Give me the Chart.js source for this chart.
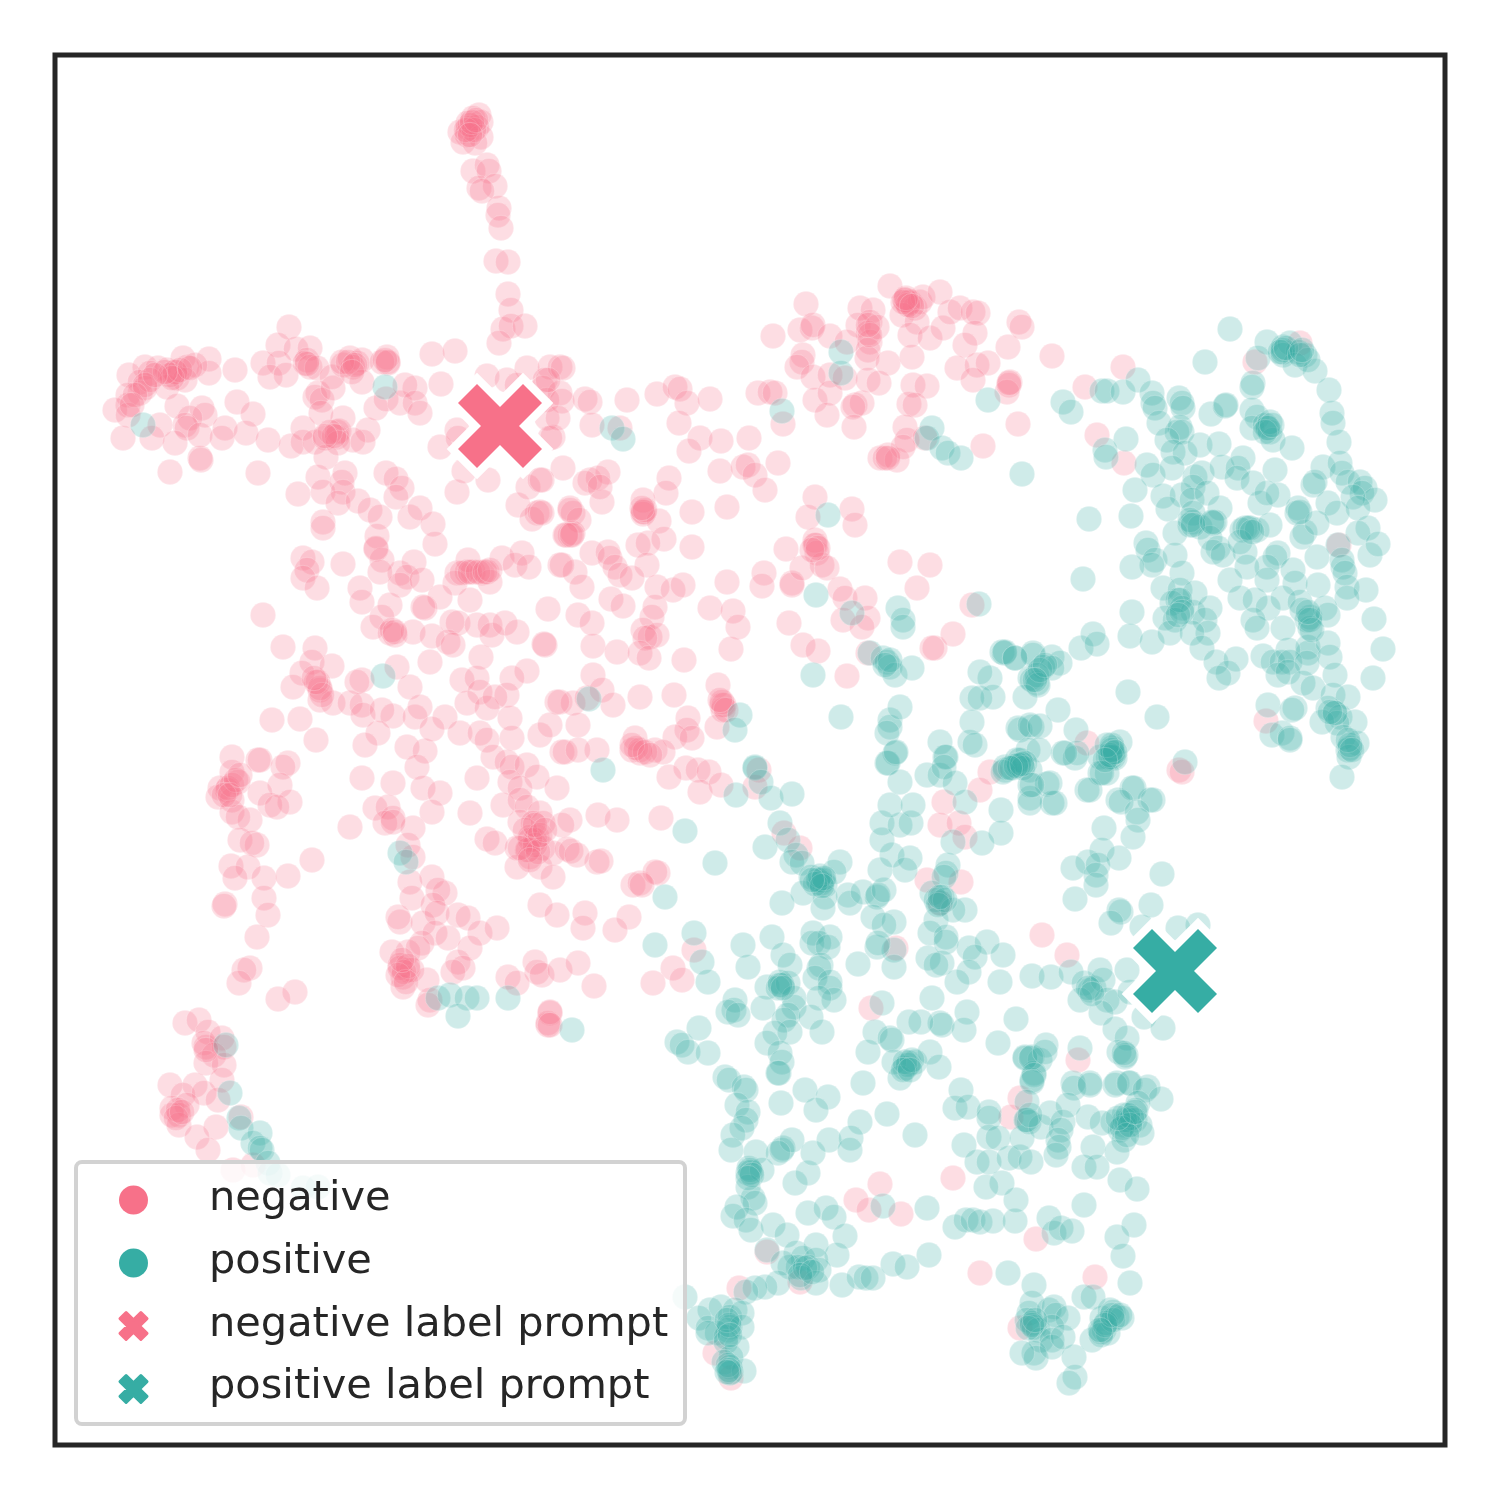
<!DOCTYPE html>
<html>
<head>
<meta charset="utf-8">
<title>Prompt embedding scatter</title>
<script src="https://cdn.jsdelivr.net/npm/chart.js@4/dist/chart.umd.min.js"></script>
<style>
  html, body { margin: 0; padding: 0; background: #fff; }
  canvas { display: block; }
</style>
</head>
<body>
<canvas id="chart" width="1500" height="1500"></canvas>
<script>
// values; the plot has no ticks so the units follow the frame
const negativePoints = [
[479,115],[473,118],[468,123],[481,122],[460,132],[468,128],[477,127],[467,135],[481,137],[463,142],[475,143],
[473,171],[487,165],[489,171],[479,188],[495,186],[482,191],[499,208],[498,215],[501,228],[496,261],[508,262],[508,294],[511,310],[503,329],[511,326],[525,326],[499,343],
[432,354],[455,351],[441,384],[487,376],
[289,327],[278,345],[296,349],[310,348],[263,363],[279,363],[270,377],[286,375],[307,360],[305,363],[310,367],[317,368],[235,370],
[183,358],[209,359],[209,373],[145,367],[158,368],[167,370],[175,372],[187,367],[195,365],[177,378],[129,375],[150,373],[140,382],[185,380],[167,387],[140,393],[128,395],[145,388],[128,405],[115,410],[128,415],[177,406],[202,408],[205,415],[190,418],[185,425],[187,428],[160,425],[152,438],[123,438],[175,443],[200,435],[225,428],[222,438],[200,458],[201,460],[170,472],
[237,402],[253,414],[246,433],[258,473],[268,440],[291,446],[303,428],[303,442],[315,442],[325,438],[337,432],[339,431],[337,437],[326,457],[343,418],[368,430],[363,442],[353,440],[338,443],[318,393],[315,397],[322,400],[333,388],[332,377],[343,365],[350,358],[357,363],[362,360],[353,367],[362,382],[387,357],[388,363],[382,362],[376,408],[386,399],[400,403],[415,388],[405,385],[415,403],[420,413],[321,413],
[318,477],[345,473],[342,482],[298,494],[323,492],[343,492],[338,503],[358,501],[370,510],[380,517],[386,473],[396,479],[402,488],[396,497],[410,517],[420,508],[433,524],[435,544],[323,522],[323,528],[377,536],[376,549],[457,492],[464,471],[488,480],[440,447],[457,430],[458,438],[518,505],[528,487],[540,480],[537,513],[532,519],[540,512],
[527,368],[550,367],[507,380],[517,385],[545,380],[543,388],[560,367],[547,418],[553,437],[560,393],[547,400],
[563,368],[548,380],[562,401],[585,399],[590,402],[627,400],[558,418],[592,425],[620,428],[550,438],[657,394],[675,387],[680,389],[687,403],[710,399],[679,423],[700,438],[689,451],[721,441],[749,438],[720,471],[743,467],[748,465],[755,475],[778,463],[765,490],[758,393],[770,392],[775,393],[783,424],
[563,468],[542,480],[608,472],[590,480],[598,478],[585,483],[602,502],[600,487],[669,478],[666,493],[643,500],[644,512],[643,514],[659,521],[692,512],[727,507],[542,513],[570,508],[573,513],[579,520],[565,535],[570,535],[573,533],[664,539],[638,545],[648,543],[692,547],[592,553],[608,552],[610,558],[615,567],[647,565],[560,565],[575,572],[620,575],[632,578],[582,587],[657,587],[673,590],[683,585],[611,599],[623,606],[655,607],[548,609],[578,615],[592,623],[652,617],[710,608],[733,611],[738,627],[643,630],[650,637],[657,635],[645,638],[593,646],[617,652],[640,653],[649,658],[545,645],[684,660],[731,649],
[727,582],[764,573],[762,586],[792,583],[792,585],[815,497],[808,517],[786,549],[815,540],[816,545],[817,553],[802,568],[822,565],[827,568],[852,509],[855,525],[900,562],[930,565],[917,588],[840,589],[845,598],[865,598],[868,618],[843,620],[862,627],[789,623],[803,645],[818,651],[972,605],[935,648],[953,634],[932,648],[847,676],[868,653],
[806,304],[773,336],[800,330],[812,328],[813,325],[830,336],[803,355],[802,362],[797,367],[813,377],[830,375],[815,400],[830,393],[827,415],[855,405],[862,403],[853,407],[854,427],[845,378],[860,308],[873,310],[858,325],[870,322],[868,333],[870,342],[877,327],[847,342],[868,350],[867,358],[888,363],[868,380],[879,383],[890,286],[907,303],[905,300],[910,302],[915,308],[920,302],[923,297],[940,292],[902,315],[917,322],[910,335],[930,338],[943,328],[950,312],[960,308],[973,312],[978,313],[912,357],[975,333],[965,345],[957,368],[977,365],[988,363],[973,380],[1008,347],[1019,322],[1022,327],[1010,382],[1009,385],[1007,392],[1018,424],[983,446],[913,385],[927,386],[909,404],[915,405],[905,427],[907,440],[925,438],[880,458],[888,455],[897,460],[903,447],
[1052,356],[1123,367],[1085,387],[1097,435],[1124,463],[1300,343],[1255,362],[1339,545],[1266,721],[1179,770],[1087,743],
[303,558],[312,562],[307,570],[303,578],[317,588],[343,564],[263,615],[283,647],[315,648],[312,662],[332,666],[302,673],[293,687],[318,682],[320,690],[320,700],[333,703],[350,703],[362,705],[362,680],[357,682],[363,715],[397,667],[410,687],[393,716],[382,710],[415,717],[420,707],[378,733],[365,745],[300,719],[272,720],[316,740],[407,747],[425,751],[417,767],[362,778],[393,783],[423,788],[440,793],[432,812],[470,813],[375,808],[388,807],[393,818],[385,823],[413,828],[350,827],[393,822],[408,845],[413,857],[432,877],[410,882],[412,898],[445,893],[438,890],[433,905],[400,922],[398,917],[423,923],[437,913],[458,915],[435,933],[468,918],[480,933],[497,928],[422,943],[408,952],[392,952],[418,948],[448,938],[470,948],[458,962],[463,968],[453,972],[400,965],[408,970],[403,977],[403,987],[427,980],[430,1000],[412,970],
[540,905],[557,915],[508,977],[535,962],[537,972],[542,975],[517,983],[550,1013],[548,1025],[548,1023],[560,970],
[232,757],[258,760],[260,760],[288,763],[283,767],[232,772],[238,782],[220,788],[227,790],[280,785],[260,793],[218,797],[232,800],[290,802],[270,805],[277,807],[232,812],[250,820],[238,817],[240,840],[257,845],[252,843],[231,866],[248,867],[235,878],[264,878],[288,876],[312,860],[264,898],[225,904],[224,906],[268,915],[257,937],[250,968],[244,970],[239,983],[295,992],[278,999],
[457,573],[467,572],[473,572],[482,573],[487,572],[490,582],[455,583],[502,558],[522,553],[515,565],[529,567],[468,560],[562,565],
[400,573],[414,562],[407,577],[400,585],[382,560],[380,572],[376,548],[422,580],[360,588],[362,602],[390,605],[440,597],[425,608],[423,607],[382,617],[373,627],[390,633],[395,635],[413,632],[432,636],[452,622],[458,623],[470,600],[477,625],[490,625],[492,635],[505,623],[517,632],[448,642],[453,645],[544,644],[481,657],[430,662],[462,680],[477,678],[527,671],[512,678],[480,692],[507,695],[467,703],[487,708],[495,697],[510,718],[445,717],[432,729],[460,733],[480,733],[487,740],[512,738],[540,735],[560,702],[562,752],[493,757],[507,762],[512,767],[527,765],[477,778],[537,777],[510,782],[520,788],[557,788],[503,805],[520,800],[527,807],[540,813],[520,822],[533,823],[487,839],[495,843],[517,848],[530,837],[537,837],[543,823],[527,850],[543,848],[517,867],[540,867],[553,853],[553,877],[530,857],[535,840],
[570,820],[562,825],[598,815],[617,820],[597,862],[601,861],[567,849],[571,851],[577,855],[633,885],[640,883],[658,873],[629,917],[615,930],[585,913],[583,928],[578,963],[594,986],
[573,703],[587,698],[593,675],[602,690],[613,705],[557,702],[550,725],[578,725],[640,697],[674,695],[718,685],[722,705],[723,710],[717,727],[688,718],[687,730],[675,737],[692,738],[635,738],[632,750],[640,753],[655,750],[663,752],[597,750],[565,752],[578,750],
[686,768],[698,770],[709,772],[669,777],[700,792],[721,785],[759,770],[755,787],[990,772],[980,790],[944,802],[940,825],[959,823],[965,837],[927,880],[961,882],[940,903],[655,872],[642,885],[694,950],[896,948],[673,968],[682,980],[653,983],[871,1008],[1042,935],[1067,955],[1078,1060],[1182,772],[784,833],[800,848],[661,818],
[953,1178],[880,1184],[856,1200],[869,1210],[901,1214],[1036,1239],[980,1273],[1095,1277],[739,1288],[767,1252],[1020,1328],[1020,1098],[1011,1117],[715,1353],[731,1378],[800,1282],
[185,1023],[199,1020],[208,1032],[206,1047],[204,1043],[222,1038],[224,1047],[214,1055],[206,1063],[224,1065],[222,1080],[195,1085],[170,1085],[183,1095],[204,1093],[218,1100],[172,1108],[187,1105],[179,1115],[172,1115],[179,1125],[216,1127],[197,1137],[208,1150],[241,1117],[233,1170],[253,1165],[550,1012],[550,1025],[428,1005],
[470,125],[474,130],[466,130],[472,122],[476,120],[470,135],
[175,372],[170,375],[180,370],[172,378],[150,380],[145,385],[135,395],[132,405],[190,368],[165,372],[155,375],
[388,362],[385,360],[342,362],[348,362],[355,365],[352,372],[307,364],[330,432],[334,436],[325,436],
[905,300],[908,305],[903,302],[906,298],[912,306],[870,335],[868,325],
[815,545],[818,548],[812,550],[643,512],[645,510],[642,508],
[724,705],[722,702],[726,710],[720,700],
[640,750],[636,748],[645,752],[632,745],[650,755],
[320,688],[316,682],[322,695],[314,678],
[400,968],[404,972],[408,966],[398,975],[406,982],[402,960],
[228,788],[232,785],[236,780],[224,795],[230,795],[240,775],
[530,840],[535,845],[528,850],[538,852],[525,830],[540,835],[520,848],[535,825],[545,830],[530,860],
[570,510],[566,535],[572,535],[462,573],[470,572],[478,572],[485,572],[490,570],
[206,1050],[178,1110],[176,1118],[182,1112],[885,458],[888,458],[1009,383],[392,630],[395,632]
];
const positivePoints = [
[226,1045],[230,1093],[239,1118],[241,1128],[260,1133],[253,1143],[260,1148],[262,1150],[268,1163],[270,1173],[278,1175],[303,1188],[318,1187],[572,1030],
[383,676],[400,853],[406,862],[438,998],[450,995],[467,998],[477,998],[508,998],[458,1016],[143,425],[385,387],
[612,428],[623,439],[782,411],[841,352],[841,373],[988,400],[932,428],[927,438],[942,448],[948,453],[961,458],[1022,474],[828,515],[816,595],[852,613],[898,608],[903,620],[903,627],[979,604],[589,699],[603,770],[740,715],[735,730],[813,675],[841,717],[870,653],[883,658],[887,662],[890,667],[895,675],[912,668],[1002,652],[1004,653],[1015,658],[1033,653],[1030,678],[1037,683],[990,678],[980,672],[993,697],[972,698],[980,698],[972,722],[1020,730],[970,742],[940,742],[945,757],[890,720],[890,727],[900,707],[887,733],[895,753],[887,763],[1005,767],[1017,760],[1032,727],[1030,770],[755,767],
[1230,329],[1205,362],[1267,342],[1283,347],[1283,352],[1290,343],[1305,355],[1298,352],[1283,355],[1295,365],[1315,371],[1308,360],[1258,358],[1253,383],[1252,387],[1329,390],[1332,413],[1333,423],[1339,442],[1252,410],[1257,417],[1252,428],[1265,425],[1267,428],[1270,432],[1273,440],[1292,448],[1270,422],
[1063,402],[1071,412],[1102,391],[1107,391],[1123,392],[1138,380],[1152,393],[1153,403],[1155,408],[1159,423],[1179,398],[1182,403],[1183,408],[1180,427],[1177,432],[1182,432],[1167,440],[1173,452],[1185,453],[1200,445],[1211,414],[1225,406],[1226,405],[1219,444],[1126,439],[1105,450],[1106,457],[1147,465],[1153,475],[1172,468],[1135,490],[1131,516],[1089,519],
[1195,477],[1202,473],[1222,467],[1243,458],[1238,468],[1237,478],[1253,483],[1275,470],[1323,467],[1340,463],[1342,473],[1348,482],[1360,482],[1365,488],[1362,493],[1375,500],[1353,497],[1313,485],[1315,482],[1163,496],[1182,495],[1193,487],[1192,500],[1207,493],[1168,509],[1220,508],[1193,513],[1193,522],[1190,525],[1200,527],[1213,523],[1215,522],[1175,533],[1260,503],[1278,495],[1267,493],[1298,508],[1297,513],[1328,503],[1337,513],[1358,508],[1368,528],[1358,533],[1245,528],[1250,528],[1242,530],[1257,530],[1270,525],[1305,532],[1302,537],[1317,523],[1210,538],[1218,548],[1213,552],[1223,555],[1245,552],[1240,542],[1278,553],[1275,557],[1317,557],[1338,545],[1342,560],[1343,567],[1370,555],[1378,544],[1345,573],[1146,543],[1148,550],[1155,560],[1175,555],[1152,565],[1132,567],[1083,579],[1182,573],[1293,570],[1267,567],[1247,567],[1230,580],[1267,580],[1295,583],[1318,585],[1347,587],[1366,590],[1347,598],[1163,588],[1180,590],[1195,593],[1178,600],[1172,603],[1182,608],[1193,612],[1210,608],[1165,618],[1175,620],[1205,620],[1132,612],[1130,636],[1152,642],[1170,633],[1208,633],[1192,633],[1202,648],[1240,598],[1255,600],[1268,608],[1253,620],[1257,628],[1283,598],[1300,602],[1310,617],[1307,620],[1310,628],[1325,608],[1328,615],[1302,610],[1283,628],[1374,619],[1383,649],[1373,678],[1308,647],[1308,653],[1328,643],[1330,657],[1288,650],[1263,656],[1273,662],[1282,662],[1290,662],[1307,663],[1278,675],[1288,672],[1335,675],[1303,683],[1313,688],[1216,662],[1236,659],[1228,673],[1219,678],[1268,705],[1295,708],[1292,710],[1333,695],[1348,697],[1328,708],[1335,713],[1340,717],[1322,722],[1355,722],[1337,723],[1343,737],[1357,743],[1350,748],[1348,750],[1349,757],[1272,735],[1282,733],[1290,738],[1290,740],[1342,777],
[1005,652],[1033,655],[1015,658],[1052,657],[1060,663],[1043,667],[1052,668],[1037,675],[1032,680],[1038,685],[1025,697],[1081,648],[1093,634],[1097,644],[1128,692],[1157,717],[1058,710],[1076,730],[1018,728],[1030,725],[1040,726],[1028,750],[1039,750],[1063,753],[1075,758],[1100,757],[1112,748],[1108,757],[1113,757],[1115,758],[1120,742],[1112,745],[1100,773],[1107,773],[1005,770],[1018,765],[1020,760],[1012,768],[1025,763],[1030,785],[1047,784],[1087,790],[1132,788],[1118,800],[1150,800],[1185,762],[1030,798],[1052,803],
[755,768],[761,782],[771,798],[792,794],[736,795],[685,831],[715,863],[665,897],[765,847],[780,823],[788,840],[796,855],[792,862],[802,863],[840,862],[811,877],[819,880],[823,880],[821,883],[825,885],[834,872],[803,893],[825,897],[823,908],[782,903],[848,895],[850,903],[863,892],[877,897],[878,895],[873,917],[884,890],[894,922],[884,925],[880,870],[892,855],[910,858],[905,870],[882,840],[882,823],[900,825],[911,823],[890,805],[913,805],[888,763],[896,752],[900,782],[927,775],[940,775],[946,757],[944,767],[955,783],[965,802],[975,745],[1001,810],[1001,833],[982,843],[953,842],[1003,772],[1019,765],[1023,768],[1030,803],[1055,803],[1050,783],[1032,785],[1090,790],[1077,753],[1065,753],[1111,757],[1113,753],[1102,773],[1134,788],[1121,802],[1153,800],[1137,812],[1138,820],[1133,837],[1104,828],[1102,850],[1119,858],[1088,862],[1073,868],[1098,865],[1096,875],[1096,885],[1075,899],[1162,874],[1121,912],[1119,910],[1111,923],[1151,905],[1142,927],[1198,925],[1178,928],[948,865],[946,873],[944,877],[932,893],[940,903],[942,897],[936,900],[965,910],[936,920],[953,910],[930,933],[946,937],[946,942],[969,948],[987,942],[975,957],[1003,955],[928,958],[942,963],[936,965],[969,972],[957,982],[1000,982],[932,998],[967,1012],[940,1023],[942,1025],[964,1030],[921,1022],[909,1022],[875,1032],[890,1038],[892,1040],[868,1052],[998,1043],[1016,1019],[909,1063],[915,1062],[905,1068],[930,1052],[939,1067],[894,1062],[900,1078],[882,1003],[894,950],[877,947],[858,964],[894,967],[878,943],
[655,945],[694,933],[702,962],[708,982],[677,1042],[682,1045],[688,1052],[708,1053],[699,1028],[743,945],[748,967],[772,937],[783,955],[790,965],[813,933],[830,937],[812,943],[819,943],[828,947],[821,965],[819,968],[815,978],[830,982],[830,988],[834,1000],[819,998],[767,987],[780,982],[782,985],[788,983],[778,988],[794,998],[794,1007],[763,1008],[735,1000],[734,1010],[728,1012],[738,1015],[788,1015],[784,1020],[790,1032],[811,1017],[775,1033],[767,1043],[780,1053],[782,1062],[779,1073],[822,1032],
[725,1077],[729,1080],[744,1087],[805,1090],[863,1083],[961,1090],[1032,976],[1051,977],[1071,972],[1084,983],[1090,990],[1094,988],[1100,970],[1103,980],[1127,970],[1080,1000],[1107,1000],[1115,1002],[1101,1013],[1130,992],[1144,1017],[1115,1029],[1163,1028],[1127,1038],[1119,1052],[1126,1055],[1125,1057],[1025,1057],[1032,1057],[1046,1045],[1040,1060],[1080,1048],[1034,1073],[1032,1080],[1073,1083],[1090,1083],[1117,1083],[1130,1083],[1148,1087],
[746,1090],[778,1073],[781,1103],[828,1097],[816,1110],[860,1122],[887,1114],[915,1135],[737,1105],[748,1112],[746,1120],[742,1128],[733,1135],[731,1150],[756,1152],[783,1148],[782,1150],[792,1140],[778,1153],[748,1173],[749,1168],[751,1172],[762,1170],[748,1187],[753,1198],[755,1203],[737,1207],[733,1216],[746,1220],[751,1230],[795,1183],[808,1173],[813,1153],[829,1140],[851,1138],[850,1150],[808,1213],[826,1208],[834,1217],[845,1236],[773,1225],[787,1235],[883,1206],[927,1208],
[767,1250],[796,1253],[816,1245],[837,1255],[803,1258],[816,1260],[790,1267],[798,1267],[808,1267],[819,1270],[801,1278],[816,1283],[783,1263],[778,1283],[765,1287],[755,1288],[746,1292],[842,1285],[859,1277],[866,1278],[873,1278],[893,1264],[907,1267],[929,1255],[685,1297],[955,1227],[966,1220],[973,1220],[980,1222],[993,1221],[1015,1221],[1016,1200],[1002,1183],[986,1187],[1049,1218],[1054,1233],[1061,1228],[1072,1231],[1084,1205],[1134,1225],[1117,1237],[1123,1256],[1130,1283],[1008,1273],[1034,1285],
[955,1108],[968,1107],[989,1112],[989,1118],[989,1137],[998,1138],[964,1145],[977,1162],[989,1162],[1009,1158],[1020,1157],[1031,1162],[1022,1138],[1025,1058],[1031,1058],[1045,1052],[1034,1075],[1032,1082],[1027,1102],[1027,1120],[1029,1122],[1041,1127],[1050,1113],[1074,1088],[1090,1085],[1068,1105],[1088,1117],[1063,1122],[1061,1130],[1058,1140],[1059,1147],[1056,1155],[1093,1147],[1084,1167],[1097,1167],[1115,1085],[1129,1083],[1145,1090],[1161,1099],[1138,1103],[1124,1053],
[1113,1122],[1124,1115],[1136,1110],[1129,1120],[1135,1120],[1140,1125],[1124,1125],[1120,1130],[1102,1123],[1124,1140],[1142,1133],[1117,1152],[1120,1180],[1137,1189],
[710,1310],[721,1307],[735,1310],[730,1317],[699,1318],[742,1313],[708,1328],[730,1327],[728,1330],[742,1327],[717,1333],[726,1337],[708,1333],[737,1347],[726,1342],[731,1357],[724,1362],[730,1367],[731,1372],[744,1371],[730,1373],
[1032,1303],[1029,1313],[1027,1320],[1032,1323],[1034,1327],[1038,1330],[1049,1310],[1054,1307],[1056,1315],[1068,1318],[1052,1327],[1041,1340],[1052,1340],[1034,1353],[1036,1358],[1022,1353],[1052,1347],[1074,1357],[1075,1377],[1069,1383],[1063,1337],
[1084,1297],[1093,1297],[1102,1318],[1092,1340],[1101,1332],[1104,1330],[1108,1333],[1110,1310],[1113,1312],[1117,1317],[1122,1318],[1106,1323],[1113,1320],[1101,1335],
[818,880],[820,876],[815,884],[824,878],[822,886],[812,880],
[1125,1120],[1128,1115],[1132,1118],[1122,1128],[1130,1125],[1127,1135],[1118,1118],[1135,1112],
[908,1065],[905,1062],[912,1060],[903,1070],[910,1070],
[1110,755],[1112,750],[1107,745],[1115,752],[1105,760],
[1283,350],[1280,352],[1286,348],[1300,355],[1302,350],
[1268,428],[1265,432],[1272,425],
[1350,745],[1348,740],[1352,750],[1335,713],[1330,712],
[729,1325],[727,1320],[730,1335],[728,1365],[729,1370],[727,1372],
[1032,1325],[1028,1328],[1035,1320],[1105,1325],[1112,1315],[1100,1330],[1120,1315],
[750,1170],[752,1175],[748,1178],[780,985],[783,988],
[1190,520],[1193,525],[1212,522],[1248,528],[1252,532],[1300,512],[1310,620],[1312,630],[1308,612],[1180,600],[1182,612],[1178,615],
[1016,766],[1022,764],[1010,768],[1040,670],[1045,665],[1035,680],
[1088,988],[1092,994],[945,900],[938,905],[940,897],[890,660],[885,665],
[805,1268],[800,1275],[812,1272],[1026,1120],[1030,1115]
];
const negativePrompt = [[500,426]];
const positivePrompt = [[1175,971]];
const seriesLabels = ["negative", "positive", "negative label prompt", "positive label prompt"];

const pink = "rgb(247,113,137)";
const teal = "rgb(54,173,164)";
const toXY = p => ({ x: p[0], y: p[1] });

function traceCross(ctx, cx, cy, s) {
  // filled x marker, s is half its width
  const k = s / 42, a = 42 * k, b = 23 * k, c = 19 * k;
  ctx.beginPath();
  ctx.moveTo(cx, cy - c);
  ctx.lineTo(cx + b, cy - a);
  ctx.lineTo(cx + a, cy - b);
  ctx.lineTo(cx + c, cy);
  ctx.lineTo(cx + a, cy + b);
  ctx.lineTo(cx + b, cy + a);
  ctx.lineTo(cx, cy + c);
  ctx.lineTo(cx - b, cy + a);
  ctx.lineTo(cx - a, cy + b);
  ctx.lineTo(cx - c, cy);
  ctx.lineTo(cx - a, cy - b);
  ctx.lineTo(cx - b, cy - a);
  ctx.closePath();
}

function makeCross(color) {
  const c = document.createElement("canvas");
  c.width = 110;
  c.height = 110;
  const g = c.getContext("2d");
  traceCross(g, 55, 55, 42);
  g.lineWidth = 16;
  g.lineJoin = "miter";
  g.strokeStyle = "#fff";
  g.stroke();
  g.fillStyle = color;
  g.fill();
  return c;
}

const framePlugin = {
  id: "frameAndLegend",
  afterDraw(chart) {
    const ctx = chart.ctx, a = chart.chartArea;
    ctx.save();
    ctx.lineWidth = 5;
    ctx.strokeStyle = "#262626";
    ctx.strokeRect(a.left, a.top, a.right - a.left, a.bottom - a.top);

    ctx.beginPath();
    ctx.roundRect(76, 1162, 609, 262, 6);
    ctx.fillStyle = "rgba(255,255,255,0.8)";
    ctx.fill();
    ctx.lineWidth = 4;
    ctx.strokeStyle = "#d2d2d2";
    ctx.stroke();

    const markerRows = [1200, 1263, 1326, 1389];
    const textRows = [1210, 1273, 1336, 1398];
    const colors = [pink, teal, pink, teal];
    ctx.font = '41.5px "DejaVu Sans"';
    ctx.textBaseline = "alphabetic";
    seriesLabels.forEach((label, i) => {
      ctx.fillStyle = colors[i];
      ctx.strokeStyle = colors[i];
      if (i < 2) {
        ctx.beginPath();
        ctx.arc(133.5, markerRows[i], 14.5, 0, Math.PI * 2);
        ctx.fill();
      } else {
        traceCross(ctx, 133.5, markerRows[i], 13.5);
        ctx.lineWidth = 3;
        ctx.lineJoin = "round";
        ctx.fill();
        ctx.stroke();
      }
      ctx.fillStyle = "#262626";
      ctx.fillText(label, 209, textRows[i]);
    });
    ctx.restore();
  }
};

new Chart(document.getElementById("chart"), {
  type: "scatter",
  data: {
    datasets: [
      { label: seriesLabels[0], data: negativePoints.map(toXY), order: 4, pointRadius: 12.7,
        backgroundColor: "rgba(247,113,137,0.24)", borderColor: "rgba(255,255,255,0.25)", borderWidth: 1 },
      { label: seriesLabels[1], data: positivePoints.map(toXY), order: 3, pointRadius: 12.7,
        backgroundColor: "rgba(54,173,164,0.24)", borderColor: "rgba(255,255,255,0.25)", borderWidth: 1 },
      { label: seriesLabels[2], data: negativePrompt.map(toXY), order: 2, pointStyle: makeCross(pink) },
      { label: seriesLabels[3], data: positivePrompt.map(toXY), order: 1, pointStyle: makeCross(teal) }
    ]
  },
  options: {
    responsive: false,
    animation: false,
    layout: { padding: { left: 55, right: 55, top: 55, bottom: 55 } },
    plugins: { legend: { display: false }, tooltip: { enabled: false } },
    scales: {
      x: { type: "linear", min: 55, max: 1445, display: false },
      y: { type: "linear", min: 55, max: 1445, reverse: true, display: false }
    }
  },
  plugins: [framePlugin]
});
</script>
</body>
</html>
